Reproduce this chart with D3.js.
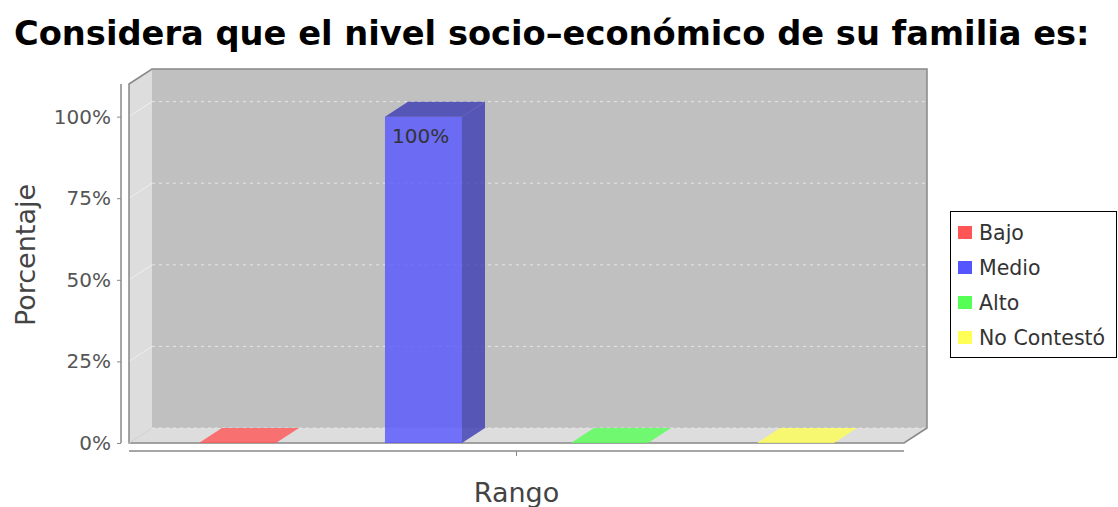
<!DOCTYPE html>
<html><head><meta charset="utf-8">
<script src="https://cdn.jsdelivr.net/npm/d3@7/dist/d3.min.js"></script>
<style>body{margin:0;background:#fff}svg{display:block}</style>
</head><body><svg id="c" width="1118" height="507"></svg>
<script>
const titleText = "Considera que el nivel socio\u2013económico de su familia es:";
const series = ["Bajo", "Medio", "Alto", "No Contestó"];
const values = [0, 1, 0, 0];
const colors = ["#FF5555", "#5555FF", "#55FF55", "#FFFF55"];
const yTicks = [0, 0.25, 0.5, 0.75, 1];
const xCategory = "Rango";
const yLabel = "Porcentaje";

const svg = d3.select("#c");
const L = 129, R = 904, B = 443, T = 84, DX = 23, DY = 15;
const y = d3.scaleLinear().domain([0, 1.1]).range([B, T]);
const x = d3.scaleBand().domain(series).range([L, R]).paddingInner(0.586).paddingOuter(0.376);
const pct = d3.format(".0%");
const font = "DejaVu Sans, Verdana, sans-serif";

// title: fit to width via font size
const t = svg.append("text").attr("x", 14).attr("y", 45)
  .attr("font-family", font).attr("font-weight", "bold").attr("font-size", 33)
  .attr("fill", "#000").text(titleText);
const tw = t.node().getBBox().width;
t.attr("font-size", Math.min(36, 33 * 1076 / tw));

// back wall
svg.append("rect").attr("x", L + DX).attr("y", T - DY).attr("width", R - L)
  .attr("height", B - T).attr("fill", "#c0c0c0");
// left wall
svg.append("polygon").attr("points", [[L, T], [L + DX, T - DY], [L + DX, B - DY], [L, B]].join(" "))
  .attr("fill", "#dddddd");
// floor
svg.append("polygon").attr("points", [[L, B], [L + DX, B - DY], [R + DX, B - DY], [R, B]].join(" "))
  .attr("fill", "#dddddd");

// gridlines
const g = svg.append("g");
yTicks.forEach(v => {
  const yy = y(v) - DY;
  g.append("line").attr("x1", L + DX).attr("x2", R + DX).attr("y1", yy).attr("y2", yy)
    .attr("stroke", "#e6e6e6").attr("stroke-width", 1).attr("stroke-dasharray", "3,4");
  g.append("line").attr("x1", L).attr("x2", L + DX).attr("y1", y(v)).attr("y2", yy)
    .attr("stroke", "#ffffff").attr("stroke-opacity", 0.5).attr("stroke-width", 1);
});

// outline
svg.append("polygon").attr("points",
  [[L, T], [L + DX, T - DY], [R + DX, T - DY], [R + DX, B - DY], [R, B], [L, B]].join(" "))
  .attr("fill", "none").attr("stroke", "#888").attr("stroke-width", 1.5);
svg.append("line").attr("x1", L).attr("x2", L + DX).attr("y1", B).attr("y2", B - DY)
  .attr("stroke", "#ccc").attr("stroke-width", 1);

// bars
const bars = svg.append("g");
series.forEach((s, i) => {
  const v = values[i];
  const x0 = x(s), w = x.bandwidth(), yv = y(v);
  const c = d3.color(colors[i]);
  const dark = d3.rgb(c.r * 0.7, c.g * 0.7, c.b * 0.7);
  const topPts = [[x0, yv], [x0 + DX, yv - DY], [x0 + w + DX, yv - DY], [x0 + w, yv]];
  if (v > 0) {
    bars.append("rect").attr("x", x0).attr("y", yv).attr("width", w).attr("height", B - yv)
      .attr("fill", colors[i]).attr("fill-opacity", 0.8);
    bars.append("polygon").attr("points",
      [[x0 + w, yv], [x0 + w + DX, yv - DY], [x0 + w + DX, B - DY], [x0 + w, B]].join(" "))
      .attr("fill", dark).attr("fill-opacity", 0.8);
    bars.append("polygon").attr("points", topPts.join(" "))
      .attr("fill", dark).attr("fill-opacity", 0.8);
    bars.append("text").attr("x", x0 + 7).attr("y", yv + 26)
      .attr("font-family", font).attr("font-size", 20).attr("fill", "#333").text(pct(v));
  } else {
    bars.append("polygon").attr("points", topPts.join(" "))
      .attr("fill", colors[i]).attr("fill-opacity", 0.8);
  }
});

// y axis
const yAxis = svg.append("g").attr("transform", `translate(121,0)`)
  .call(d3.axisLeft(y).tickValues(yTicks).tickFormat(pct).tickSize(4).tickPadding(6));
yAxis.select(".domain").attr("d", `M0,${T}V${B}`).attr("stroke", "#888").attr("stroke-width", 1.5);
yAxis.selectAll(".tick line").attr("stroke", "#888");
yAxis.selectAll(".tick text").attr("font-family", font).attr("font-size", 20).attr("fill", "#555");

// x axis
const xs = d3.scaleBand().domain([xCategory]).range([L, R]);
const xAxis = svg.append("g").attr("transform", `translate(0,451)`)
  .call(d3.axisBottom(xs).tickSize(5).tickFormat(""));
xAxis.select(".domain").attr("d", `M${L},0H${R}`).attr("stroke", "#888").attr("stroke-width", 1.5);
xAxis.selectAll(".tick line").attr("stroke", "#888");

// axis labels
svg.append("text").attr("x", xs(xCategory) + xs.bandwidth() / 2).attr("y", 502)
  .attr("text-anchor", "middle").attr("font-family", font).attr("font-size", 27)
  .attr("fill", "#444").text(xCategory);
svg.append("text").attr("transform", "translate(35,255) rotate(-90)")
  .attr("text-anchor", "middle").attr("font-family", font).attr("font-size", 27)
  .attr("fill", "#444").text(yLabel);

// legend
const lg = svg.append("g");
lg.append("rect").attr("x", 950.5).attr("y", 211.5).attr("width", 166).attr("height", 146)
  .attr("fill", "#fff").attr("stroke", "#000").attr("stroke-width", 1);
series.forEach((s, i) => {
  const cy = 233 + i * 35;
  lg.append("rect").attr("x", 958).attr("y", cy - 7).attr("width", 14).attr("height", 13)
    .attr("fill", colors[i]);
  lg.append("text").attr("x", 979).attr("y", cy + 7).attr("font-family", font)
    .attr("font-size", 20.5).attr("fill", "#333").text(s);
});
</script></body></html>
